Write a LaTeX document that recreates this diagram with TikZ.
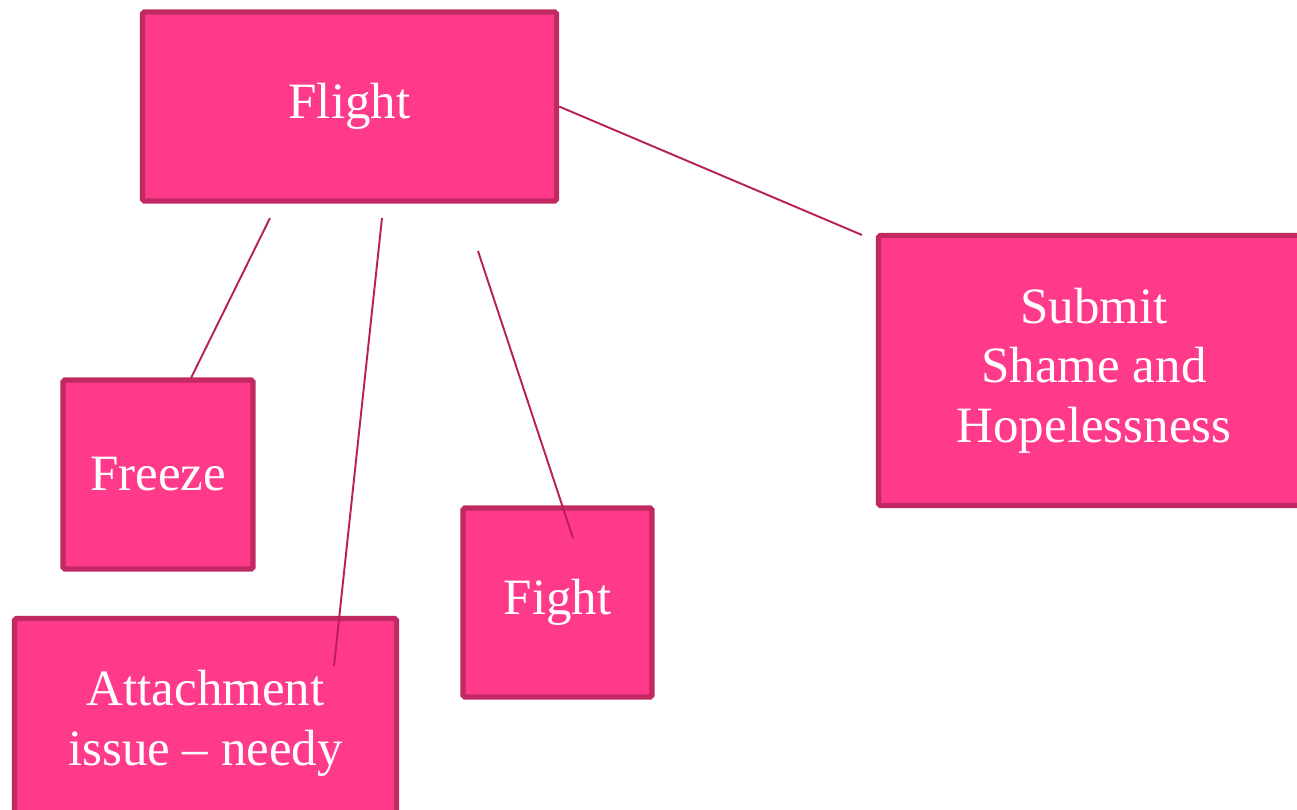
\documentclass[tikz,border=0pt]{standalone}
\usepackage{fontspec}
\setmainfont{Liberation Serif}
\definecolor{boxpink}{RGB}{255,58,138}
\definecolor{boxedge}{RGB}{192,41,98}
\definecolor{linkpink}{RGB}{184,32,90}
\usetikzlibrary{positioning}

\begin{document}
\begin{tikzpicture}[
        pinkbox/.style={rectangle, draw=boxedge, fill=boxpink, line width=3pt,
                        rounded corners=1pt, align=center, text=white,
                        font=\fontsize{29}{34}\selectfont},
        link/.style={linkpink, line width=1.1pt}
      ]
        \useasboundingbox (0,0) rectangle (25.94,-16.18);

        \node[pinkbox, minimum width=8.28cm, minimum height=3.78cm] (flight) at (6.99,-2.13)  {Flight};
        \node[pinkbox, minimum width=3.80cm, minimum height=3.78cm] (freeze) at (3.16,-9.49)  {Freeze};
        \node[pinkbox, minimum width=7.64cm, minimum height=4.20cm] (attach) at (4.11,-14.47) {Attachment\\issue -- needy};
        \node[pinkbox, minimum width=3.78cm, minimum height=3.78cm] (fight)  at (11.15,-12.05) {Fight};
        \node[pinkbox, minimum width=8.62cm, minimum height=5.40cm] (submit) at (21.88,-7.41) {Submit\\Shame and\\Hopelessness};

        % loose line ends
        \coordinate (fzA) at (5.40,-4.36);
        \coordinate (fzB) at (3.82,-7.56);
        \coordinate (atA) at (7.64,-4.36);
        \coordinate (atB) at (6.68,-13.32);
        \coordinate (fiA) at (9.56,-5.02);
        \coordinate (fiB) at (11.46,-10.76);
        \coordinate (suB) at (17.24,-4.70);

        \draw[link] (fzA) -- (fzB);
        \draw[link] (atA) -- (atB);
        \draw[link] (fiA) -- (fiB);
        \draw[link] (flight.east) -- (suB);
      \end{tikzpicture}
\end{document}
